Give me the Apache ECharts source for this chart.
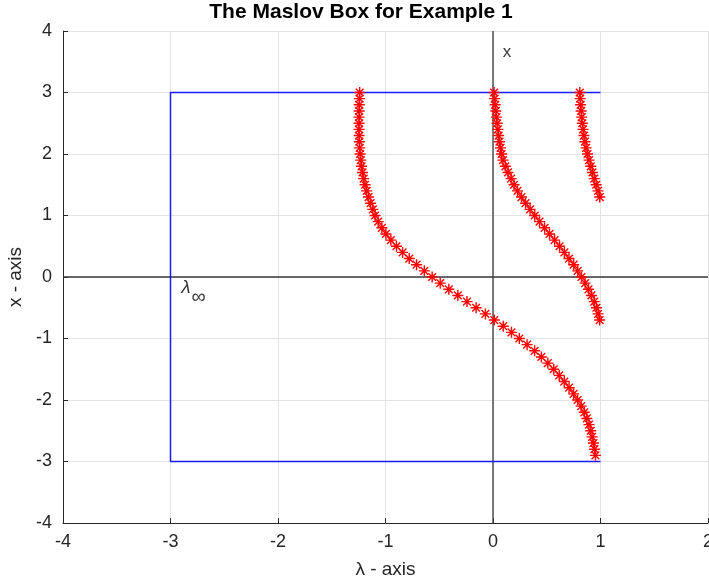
<!DOCTYPE html>
<html>
<head>
<meta charset="utf-8">
<script src="https://cdn.jsdelivr.net/npm/echarts@6/dist/echarts.min.js"></script>
<style>
html,body{margin:0;padding:0;background:#fff;overflow:hidden;}
#chart{width:709px;height:584px;}
</style>
</head>
<body>
<div id="chart"></div>
<script>
// ---- data ----
var titleText = 'The Maslov Box for Example 1';
var xAxisName = 'λ - axis';
var yAxisName = 'x - axis';
var xTicks = [-4, -3, -2, -1, 0, 1, 2];
var yTicks = [-4, -3, -2, -1, 0, 1, 2, 3, 4];

// curve 1: x from 3 down to -2.9
var curve1X = [3.0, 2.9, 2.8, 2.7, 2.6, 2.5, 2.4, 2.3, 2.2, 2.1,
               2.0, 1.9, 1.8, 1.7, 1.6, 1.5, 1.4, 1.3, 1.2, 1.1,
               1.0, 0.9, 0.8, 0.7, 0.6, 0.5, 0.4, 0.3, 0.2, 0.1,
               0.0, -0.1, -0.2, -0.3, -0.4, -0.5, -0.6, -0.7, -0.8, -0.9,
               -1.0, -1.1, -1.2, -1.3, -1.4, -1.5, -1.6, -1.7, -1.8, -1.9,
               -2.0, -2.1, -2.2, -2.3, -2.4, -2.5, -2.6, -2.7, -2.8, -2.9];
var curve1Lambda = [-1.240, -1.242, -1.244, -1.245, -1.246, -1.246, -1.246, -1.245, -1.243, -1.240,
                    -1.236, -1.230, -1.223, -1.214, -1.203, -1.190, -1.175, -1.158, -1.139, -1.118,
                    -1.097, -1.068, -1.034, -0.996, -0.950, -0.898, -0.841, -0.779, -0.711, -0.639,
                    -0.566, -0.491, -0.411, -0.327, -0.242, -0.157, -0.071, 0.012, 0.095, 0.172,
                    0.245, 0.317, 0.387, 0.450, 0.510, 0.565, 0.616, 0.663, 0.708, 0.750,
                    0.787, 0.820, 0.849, 0.873, 0.893, 0.909, 0.922, 0.934, 0.944, 0.953];

// curve 2: x from 3 down to -0.7
var curve2X = [3.0, 2.9, 2.8, 2.7, 2.6, 2.5, 2.4, 2.3, 2.2, 2.1,
               2.0, 1.9, 1.8, 1.7, 1.6, 1.5, 1.4, 1.3, 1.2, 1.1,
               1.0, 0.9, 0.8, 0.7, 0.6, 0.5, 0.4, 0.3, 0.2, 0.1,
               0.0, -0.1, -0.2, -0.3, -0.4, -0.5, -0.6, -0.7];
var curve2Lambda = [0.010, 0.015, 0.020, 0.026, 0.032, 0.038, 0.045, 0.052, 0.060, 0.070,
                    0.080, 0.093, 0.115, 0.140, 0.168, 0.196, 0.228, 0.265, 0.303, 0.345,
                    0.388, 0.433, 0.480, 0.526, 0.573, 0.619, 0.664, 0.707, 0.750, 0.788,
                    0.823, 0.857, 0.888, 0.916, 0.942, 0.962, 0.978, 0.992];

// curve 3: x from 3 down to 1.3
var curve3X = [3.0, 2.9, 2.8, 2.7, 2.6, 2.5, 2.4, 2.3, 2.2, 2.1,
               2.0, 1.9, 1.8, 1.7, 1.6, 1.5, 1.4, 1.3];
var curve3Lambda = [0.807, 0.811, 0.815, 0.820, 0.825, 0.831, 0.838, 0.846, 0.855, 0.866,
                    0.879, 0.893, 0.909, 0.925, 0.942, 0.960, 0.977, 0.993];

// Maslov box (three sides)
var boxLambda = [1, -3, -3, 1];
var boxX = [3, 3, -3, -3];

// coordinate axes drawn inside the plot
var vAxisLambda = [0, 0];
var vAxisX = [-4, 4];
var hAxisLambda = [-4, 2];
var hAxisX = [0, 0];

// text annotations
var xLabelPos = [0.09, 3.66];
var lambdaInfPos = [-2.9, -0.17];

function zip(a, b) { return a.map(function (v, i) { return [v, b[i]]; }); }

var FONT = '"Liberation Sans", Arial, Helvetica, sans-serif';
var starPath = 'path://M5,0L5,10M0,5L10,5M1.5,1.5L8.5,8.5M1.5,8.5L8.5,1.5';

function starSeries(lam, xs) {
  return {
    type: 'scatter',
    data: zip(lam, xs),
    symbol: starPath,
    symbolSize: 11,
    itemStyle: { color: 'rgba(0,0,0,0)', borderColor: '#ff0000', borderWidth: 1.4, opacity: 1 },
    emphasis: { disabled: true },
    silent: true,
    z: 5
  };
}

var chart = echarts.init(document.getElementById('chart'), null, { renderer: 'canvas', width: 709, height: 584 });
chart.setOption({
  animation: false,
  backgroundColor: '#ffffff',
  title: {
    text: titleText,
    left: 361,
    textAlign: 'center',
    top: 2,
    padding: 0,
    textStyle: { fontFamily: FONT, fontWeight: 'bold', fontSize: 21, color: '#000' }
  },
  grid: { left: 63, right: 1, top: 31, bottom: 61, containLabel: false, outerBoundsMode: 'none' },
  xAxis: {
    type: 'value', min: xTicks[0], max: xTicks[xTicks.length - 1], interval: 1,
    name: xAxisName, nameLocation: 'middle', nameGap: 37,
    nameTextStyle: { fontFamily: FONT, fontSize: 19, color: '#262626' },
    axisLine: { onZero: false, lineStyle: { color: '#262626', width: 1 } },
    axisTick: { inside: true, length: 5, lineStyle: { color: '#262626' } },
    axisLabel: { margin: 10, fontFamily: FONT, fontSize: 18, color: '#262626', hideOverlap: false },
    splitLine: { show: true, lineStyle: { color: '#e3e3e3', width: 1 } }
  },
  yAxis: {
    type: 'value', min: yTicks[0], max: yTicks[yTicks.length - 1], interval: 1,
    name: yAxisName, nameLocation: 'middle', nameGap: 34, nameRotate: 90,
    nameTextStyle: { fontFamily: FONT, fontSize: 19, color: '#262626' },
    axisLine: { onZero: false, lineStyle: { color: '#262626', width: 1 } },
    axisTick: { inside: true, length: 5, lineStyle: { color: '#262626' } },
    axisLabel: { margin: 11, fontFamily: FONT, fontSize: 18, color: '#262626', hideOverlap: false },
    splitLine: { show: true, lineStyle: { color: '#e3e3e3', width: 1 } }
  },
  series: [
    {
      type: 'line', data: zip(vAxisLambda, vAxisX), symbol: 'none', silent: true,
      lineStyle: { color: '#3a3a3a', width: 1.3 }, z: 2
    },
    {
      type: 'line', data: zip(hAxisLambda, hAxisX), symbol: 'none', silent: true,
      lineStyle: { color: '#3a3a3a', width: 1.3 }, z: 2
    },
    {
      type: 'line', data: zip(boxLambda, boxX), symbol: 'none', silent: true,
      lineStyle: { color: '#1a1aff', width: 1.5 }, z: 3
    },
    starSeries(curve1Lambda, curve1X),
    starSeries(curve2Lambda, curve2X),
    starSeries(curve3Lambda, curve3X),
    {
      type: 'scatter', data: [xLabelPos], symbolSize: 0, silent: true, z: 6,
      label: {
        show: true, position: 'right', distance: 0, formatter: 'x',
        fontFamily: FONT, fontSize: 17, color: '#000'
      }
    },
    {
      type: 'scatter', data: [lambdaInfPos], symbolSize: 0, silent: true, z: 6,
      label: {
        show: true, position: 'right', distance: 0,
        formatter: '{a|λ}{b|∞}',
        rich: {
          a: { fontFamily: FONT, fontSize: 19, color: '#000', fontStyle: 'italic' },
          b: { fontFamily: FONT, fontSize: 20, color: '#000', padding: [20, 0, 0, 1] }
        }
      }
    }
  ]
});
</script>
</body>
</html>
